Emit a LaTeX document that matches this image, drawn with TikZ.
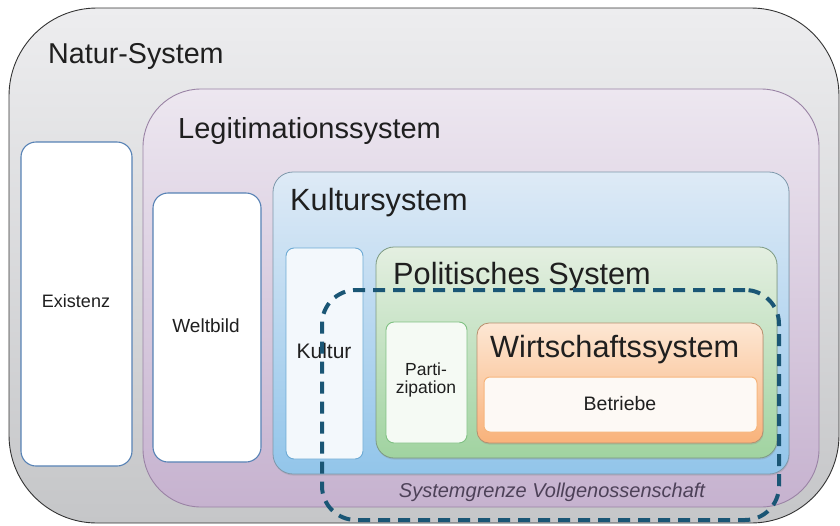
\documentclass[tikz,border=0pt]{standalone}
\usepackage{fontspec}
\setmainfont{Liberation Sans}
\usetikzlibrary{shadows}
\definecolor{naturTop}{HTML}{EDEDEF}
\definecolor{naturBot}{HTML}{C5C6C8}
\definecolor{legTop}{HTML}{EDE7F0}
\definecolor{legBot}{HTML}{C6B2CF}
\definecolor{legLine}{HTML}{9A83A5}
\definecolor{kulTop}{HTML}{DEEAF6}
\definecolor{kulBot}{HTML}{92C5EA}
\definecolor{kulLine}{HTML}{7E98AB}
\definecolor{polTop}{HTML}{E4EFE1}
\definecolor{polBot}{HTML}{A0D3A0}
\definecolor{polLine}{HTML}{7D9A82}
\definecolor{wirTop}{HTML}{FDE7D4}
\definecolor{wirBot}{HTML}{F9B27A}
\definecolor{wirLine}{HTML}{B88F6E}
\definecolor{betFill}{HTML}{FDF9F5}
\definecolor{betLine}{HTML}{F6B57C}
\definecolor{parFill}{HTML}{F5FAF4}
\definecolor{parLine}{HTML}{80C183}
\definecolor{kbFill}{HTML}{F3F8FC}
\definecolor{kbLine}{HTML}{6DAAD4}
\definecolor{whLine}{HTML}{5782B5}
\definecolor{dashCol}{HTML}{1A5675}
\definecolor{grenzText}{HTML}{4D4158}
\tikzset{
  sysbox/.style={draw, inner sep=0pt, outer sep=0pt, anchor=north west},
  shade/.style={drop shadow={shadow xshift=0.6pt, shadow yshift=-1.6pt, opacity=0.25}},
  title/.style={anchor=base west, inner sep=0pt, text=black!88},
  inner/.style={inner sep=0pt, text=black!88, align=center}
}
\newcommand{\fs}[1]{\fontsize{#1}{#1}\selectfont}
\begin{document}
\begin{tikzpicture}[x=1pt,y=-1pt]
\useasboundingbox (0,0) rectangle (840,525);
\clip (0,0) rectangle (840,525);
% Natur-System
\node[sysbox, rounded corners=88pt, top color=naturTop, bottom color=naturBot, draw=black!80, line width=0.9pt,
  minimum width=830pt, minimum height=515pt] (natur) at (9,8) {};
\node[title, font=\fs{28.7}] (naturT) at (48,63) {Natur-System};
% Existenz
\node[sysbox, rounded corners=15pt, fill=white, draw=whLine, line width=1.1pt,
  minimum width=111pt, minimum height=324pt] (existenz) at (21,142) {};
\node[inner, font=\fs{18}] (existenzT) at (76,301) {Existenz};
% Legitimationssystem
\node[sysbox, rounded corners=58pt, top color=legTop, bottom color=legBot, draw=legLine, line width=0.9pt,
  minimum width=676pt, minimum height=418pt] (legit) at (143,89) {};
\node[title, font=\fs{29}] (legitT) at (178,138) {Legitimationssystem};
% Weltbild
\node[sysbox, rounded corners=15pt, fill=white, draw=whLine, line width=1.1pt,
  minimum width=108pt, minimum height=269pt] (weltbild) at (153,193) {};
\node[inner, font=\fs{19}] (weltbildT) at (206,326) {Weltbild};
% Kultursystem
\node[sysbox, shade, rounded corners=20pt, top color=kulTop, bottom color=kulBot, draw=kulLine, line width=0.8pt,
  minimum width=516pt, minimum height=302pt] (kultursys) at (273,172) {};
\node[title, font=\fs{30.7}] (kultursysT) at (290,210) {Kultursystem};
% Kultur
\node[sysbox, rounded corners=8pt, fill=kbFill, draw=kbLine, line width=0.9pt,
  minimum width=77pt, minimum height=211pt] (kultur) at (286,248) {};
\node[inner, font=\fs{21}] (kulturT) at (324,351) {Kultur};
% Politisches System
\node[sysbox, shade, rounded corners=18pt, top color=polTop, bottom color=polBot, draw=polLine, line width=0.8pt,
  minimum width=401pt, minimum height=211pt] (polsys) at (376,247) {};
\node[title, font=\fs{30.7}] (polsysT) at (393,284) {Politisches System};
% Partizipation
\node[sysbox, rounded corners=8pt, fill=parFill, draw=parLine, line width=0.9pt,
  minimum width=81pt, minimum height=121pt] (partiz) at (386,322) {};
\node[inner, font=\fontsize{17.5}{18}\selectfont] (partizT) at (426,380) {Parti-\\zipation};
% Wirtschaftssystem
\node[sysbox, shade, rounded corners=12pt, top color=wirTop, bottom color=wirBot, draw=wirLine, line width=0.8pt,
  minimum width=286pt, minimum height=120pt] (wirtsys) at (477,323) {};
\node[title, font=\fs{30.7}] (wirtsysT) at (490,357) {Wirtschaftssystem};
% Betriebe
\node[sysbox, rounded corners=6pt, fill=betFill, draw=betLine, line width=1pt,
  minimum width=273pt, minimum height=55pt] (betriebe) at (484,377) {};
\node[inner, font=\fs{19.5}] (betriebeT) at (620,404) {Betriebe};
% Systemgrenze
\node[inner, font=\fs{20}\itshape, text=grenzText] (grenzT) at (552,492) {Systemgrenze Vollgenossenschaft};
\node[sysbox, draw=dashCol, line width=4pt, rounded corners=34pt, dash pattern=on 12pt off 8pt,
  minimum width=457pt, minimum height=230pt] (grenze) at (322,290) {};
\end{tikzpicture}
\end{document}
